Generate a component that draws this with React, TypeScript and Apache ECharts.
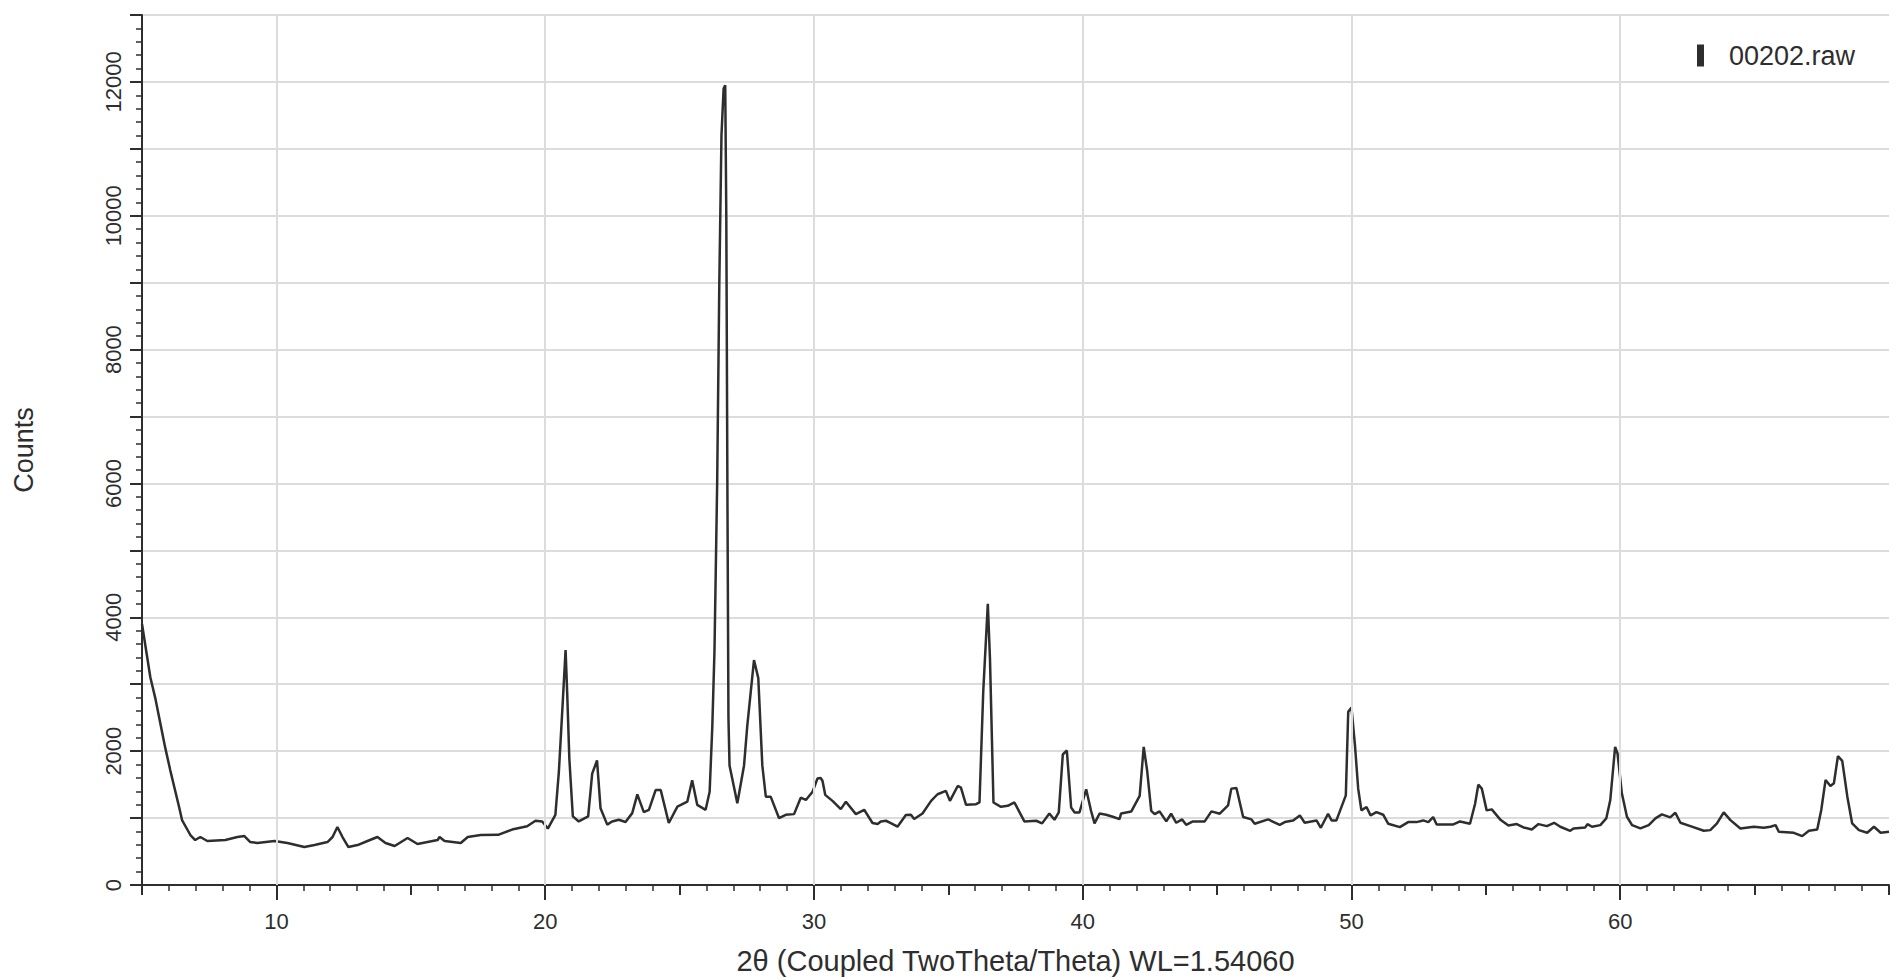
import React, { useEffect, useRef } from "react";
import * as echarts from "echarts";

const twoTheta = [
  5.0, 5.31, 5.49, 5.86, 6.05, 6.38, 6.49, 6.8, 6.98, 7.17, 7.43, 8.1, 8.55, 8.81, 9.03, 9.29, 9.93,
  10.41, 11.04, 11.42, 11.9, 12.09, 12.27, 12.46, 12.68, 13.02, 13.39, 13.76, 14.06, 14.4, 14.88,
  15.25, 16.0, 16.07, 16.26, 16.86, 17.12, 17.6, 18.25, 18.77, 19.33, 19.64, 19.89, 20.1, 20.38,
  20.51, 20.66, 20.76, 20.82, 20.9, 21.03, 21.25, 21.6, 21.75, 21.93, 22.06, 22.31, 22.49, 22.74,
  22.99, 23.24, 23.43, 23.67, 23.86, 24.11, 24.3, 24.6, 24.92, 25.29, 25.47, 25.66, 25.97, 26.12,
  26.22, 26.3, 26.4, 26.48, 26.56, 26.64, 26.7, 26.74, 26.78, 26.82, 26.86, 27.15, 27.4, 27.52,
  27.77, 27.93, 28.08, 28.21, 28.39, 28.7, 28.95, 29.26, 29.51, 29.7, 29.95, 30.13, 30.25, 30.32,
  30.42, 30.69, 31.0, 31.19, 31.56, 31.87, 32.18, 32.37, 32.49, 32.68, 32.86, 33.11, 33.42, 33.61,
  33.73, 34.04, 34.36, 34.6, 34.91, 35.06, 35.35, 35.47, 35.66, 36.03, 36.16, 36.3, 36.47, 36.55,
  36.68, 36.96, 37.21, 37.46, 37.83, 38.27, 38.49, 38.76, 38.95, 39.11, 39.26, 39.41, 39.57, 39.7,
  39.88, 40.13, 40.31, 40.44, 40.63, 40.87, 41.12, 41.37, 41.43, 41.81, 42.12, 42.27, 42.4, 42.55,
  42.68, 42.86, 43.11, 43.29, 43.48, 43.7, 43.85, 44.1, 44.54, 44.79, 45.1, 45.41, 45.53, 45.72,
  45.97, 46.28, 46.4, 46.9, 47.33, 47.52, 47.83, 48.08, 48.26, 48.7, 48.86, 49.13, 49.26, 49.44,
  49.79, 49.88, 50.0, 50.13, 50.25, 50.37, 50.56, 50.71, 50.93, 51.18, 51.37, 51.8, 52.11, 52.42,
  52.67, 52.86, 53.04, 53.17, 53.79, 54.04, 54.41, 54.6, 54.72, 54.85, 55.03, 55.22, 55.53, 55.84,
  56.15, 56.4, 56.71, 56.96, 57.27, 57.54, 57.77, 58.14, 58.26, 58.7, 58.78, 58.95, 59.26, 59.48,
  59.63, 59.81, 59.9, 60.06, 60.25, 60.44, 60.75, 61.06, 61.31, 61.55, 61.86, 62.05, 62.24, 62.61,
  63.11, 63.35, 63.6, 63.85, 64.1, 64.47, 64.97, 65.34, 65.59, 65.78, 65.9, 66.46, 66.77, 67.02,
  67.33, 67.48, 67.64, 67.82, 67.95, 68.1, 68.26, 68.45, 68.63, 68.88, 69.19, 69.44, 69.69, 70.0,
];

const counts = [
  3900, 3105, 2800, 2060, 1717, 1165, 970, 747, 672, 717, 657, 672, 717, 732, 642, 627, 657,
  627, 567, 597, 642, 717, 866, 717, 567, 597, 657, 717, 627, 582, 702,
  612, 672, 717, 657, 627, 717, 747, 750, 828, 877, 960, 950, 843, 1049,
  1689, 2771, 3509, 2870, 1886, 1025, 950, 1025, 1664, 1861, 1148, 902, 950, 975,
  941, 1074, 1354, 1089, 1123, 1418, 1418, 926, 1172, 1246, 1566, 1197, 1123, 1394,
  2378, 3500, 6000, 9000, 11200, 11900, 11950, 10000, 6000, 2500, 1787, 1221, 1787, 2378,
  3362, 3091, 1787, 1320, 1320, 1000, 1049, 1059, 1305, 1271, 1394, 1590, 1600, 1554,
  1347, 1257, 1134, 1243, 1059, 1124, 926, 911, 950, 960, 926, 871, 1045, 1050,
  985, 1069, 1257, 1356, 1406, 1257, 1480, 1455, 1198, 1208, 1233, 2891, 4203, 3386,
  1233, 1168, 1183, 1233, 950, 960, 921, 1069, 975, 1084, 1950, 2010, 1158, 1084,
  1084, 1431, 1109, 921, 1069, 1050, 1020, 985, 1069, 1099, 1332, 2064, 1703, 1109,
  1059, 1100, 950, 1065, 930, 980, 900, 950, 950, 1100, 1065, 1190, 1440, 1450,
  1015, 980, 915, 980, 900, 940, 965, 1040, 930, 965, 855, 1065, 965, 965,
  1340, 2590, 2650, 2090, 1440, 1115, 1165, 1040, 1090, 1050, 915, 865, 940, 940,
  965, 940, 1015, 905, 905, 950, 915, 1215, 1500, 1440, 1115, 1130, 980, 890,
  910, 860, 830, 910, 880, 930, 870, 810, 845, 860, 910, 870, 895, 995,
  1270, 2065, 1965, 1370, 1020, 895, 845, 895, 995, 1055, 1010, 1080, 930, 880,
  810, 820, 920, 1085, 970, 845, 870, 855, 870, 895, 795, 780, 730, 810,
  830, 1120, 1570, 1480, 1520, 1925, 1855, 1320, 920, 820, 780, 870, 780, 795,
];

const xLabelValues = [10, 20, 30, 40, 50, 60];
const seriesName = "00202.raw";
const xTitle = "2θ (Coupled TwoTheta/Theta) WL=1.54060";
const yTitle = "Counts";

const INK = "#2e2e2e";
const FONT = "'Liberation Sans', Arial, Helvetica, sans-serif";

export default function App() {
  const ref = useRef<HTMLDivElement>(null);
  useEffect(() => {
    const chart = echarts.init(ref.current!, null, { renderer: "svg" });
    const data = twoTheta.map((t, i) => [t, counts[i]]);
    chart.setOption({
      animation: false,
      backgroundColor: "#ffffff",
      textStyle: { fontFamily: FONT },
      grid: { left: 142, right: 11, top: 15, bottom: 95, containLabel: false },
      legend: {
        data: [seriesName],
        left: 1697,
        top: 42,
        icon: "rect",
        itemWidth: 7,
        itemHeight: 22,
        padding: 0,
        itemGap: 0,
        textStyle: { fontSize: 27, color: INK, fontFamily: FONT, padding: [0, 0, 6, 20] },
      },
      xAxis: [
        {
          type: "value",
          min: 5,
          max: 70,
          interval: 5,
          axisLine: { show: true, onZero: false, lineStyle: { color: INK, width: 2 } },
          axisTick: { show: true, length: 10, lineStyle: { color: INK, width: 2 } },
          minorTick: { show: true, splitNumber: 5, length: 6, lineStyle: { color: INK, width: 1.5 } },
          axisLabel: { customValues: xLabelValues, margin: 25, fontSize: 22, color: INK, fontFamily: FONT },
          splitLine: { show: false },
          name: xTitle,
          nameLocation: "middle",
          nameGap: 61,
          nameTextStyle: { fontSize: 29, color: INK, fontFamily: FONT },
        },
        {
          type: "value",
          min: 5,
          max: 70,
          position: "bottom",
          axisLine: { show: false },
          axisTick: { show: true, customValues: xLabelValues, length: 15, lineStyle: { color: INK, width: 2 } },
          axisLabel: { show: false },
          splitLine: { show: false },
        },
      ],
      yAxis: {
        type: "value",
        min: 0,
        max: 13000,
        interval: 1000,
        axisLine: { show: true, lineStyle: { color: INK, width: 2 } },
        axisTick: { show: true, length: 12, lineStyle: { color: INK, width: 2 } },
        minorTick: { show: true, splitNumber: 5, length: 6, lineStyle: { color: INK, width: 1.5 } },
        axisLabel: {
          rotate: 90,
          margin: 18,
          fontSize: 22,
          color: INK,
          fontFamily: FONT,
          formatter: (v: number) => (v % 2000 === 0 ? String(v) : ""),
        },
        splitLine: { show: true, lineStyle: { color: "#dcdcdc", width: 2 } },
        name: yTitle,
        nameLocation: "middle",
        nameGap: 105,
        nameTextStyle: { fontSize: 27, color: INK, fontFamily: FONT },
      },
      series: [
        {
          type: "line",
          name: "grid",
          data: [],
          z: 1,
          silent: true,
          markLine: {
            silent: true,
            symbol: ["none", "none"],
            label: { show: false },
            lineStyle: { color: "#dcdcdc", width: 2, type: "solid" },
            data: xLabelValues.map((v) => ({ xAxis: v })),
          },
        },
        {
          type: "line",
          name: seriesName,
          data,
          z: 3,
          showSymbol: false,
          symbol: "none",
          color: INK,
          lineStyle: { color: INK, width: 2.5 },
        },
      ],
    });
    return () => chart.dispose();
  }, []);
  return (
    <div
      ref={ref}
      style={{ position: "fixed", left: 0, top: 0, width: 1900, height: 980, background: "#fff" }}
    />
  );
}
